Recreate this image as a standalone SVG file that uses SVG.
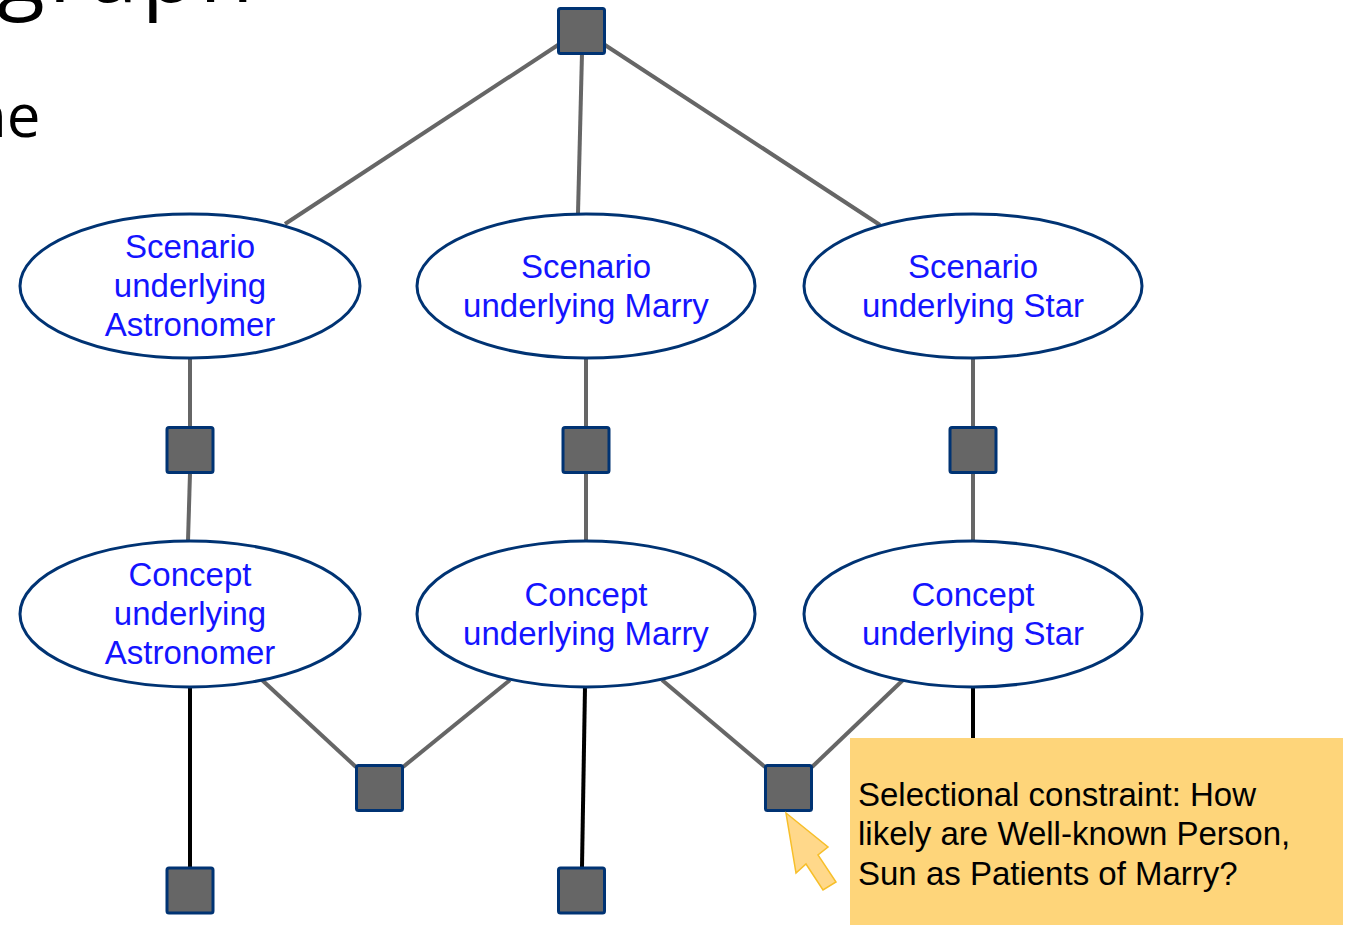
<svg xmlns="http://www.w3.org/2000/svg" width="1350" height="925" viewBox="0 0 1350 925">
<style>
.bg{font-family:"Open Sans","DejaVu Sans",sans-serif;fill:#000}
.ell{fill:#fff;stroke:#003373;stroke-width:3}
.sq{fill:#666;stroke:#003373;stroke-width:3}
.lbl{font-family:"Liberation Sans",Arial,sans-serif;font-size:33px;fill:#1414ff;text-anchor:middle}
.g{stroke:#666;stroke-width:4;fill:none}
.k{stroke:#000;stroke-width:4;fill:none}
.note{font-family:"Liberation Sans",Arial,sans-serif;font-size:33px;fill:#000}
</style>
<rect width="1350" height="925" fill="#fff"/>
<text class="bg" x="-3" y="2" font-size="88" letter-spacing="4">graph</text>
<text class="bg" x="-30" y="137" font-size="60">he</text>
<g id="connectors">
<line class="g" x1="558" y1="45" x2="285" y2="224"/>
<line class="g" x1="582" y1="53" x2="578" y2="213"/>
<line class="g" x1="605" y1="45" x2="880" y2="225"/>
<line class="g" x1="190" y1="358" x2="190" y2="427"/>
<line class="g" x1="190" y1="473" x2="188" y2="541"/>
<line class="g" x1="586" y1="358" x2="586" y2="427"/>
<line class="g" x1="586" y1="473" x2="586" y2="541"/>
<line class="g" x1="973" y1="358" x2="973" y2="427"/>
<line class="g" x1="973" y1="473" x2="973" y2="541"/>
<line class="g" x1="262" y1="680" x2="356" y2="767"/>
<line class="g" x1="510" y1="680" x2="403" y2="767"/>
<line class="g" x1="662" y1="680" x2="765" y2="767"/>
<line class="g" x1="903" y1="680" x2="812" y2="767"/>
<line class="k" x1="190" y1="687" x2="190" y2="867"/>
<line class="k" x1="585" y1="687" x2="582" y2="867"/>
<line class="k" x1="973" y1="687" x2="973" y2="740"/>
</g>
<g id="f-top"><rect class="sq" x="558.5" y="8.5" width="46" height="45" rx="2"/></g>
<g id="s-astro"><ellipse class="ell" cx="190" cy="286" rx="170" ry="72"/><text class="lbl" x="190" y="258">Scenario</text><text class="lbl" x="190" y="297">underlying</text><text class="lbl" x="190" y="336">Astronomer</text></g>
<g id="s-marry"><ellipse class="ell" cx="586" cy="286" rx="169" ry="72"/><text class="lbl" x="586" y="278">Scenario</text><text class="lbl" x="586" y="317">underlying Marry</text></g>
<g id="s-star"><ellipse class="ell" cx="973" cy="286" rx="169" ry="72"/><text class="lbl" x="973" y="278">Scenario</text><text class="lbl" x="973" y="317">underlying Star</text></g>
<g id="f-astro"><rect class="sq" x="167" y="427.5" width="46" height="45" rx="2"/></g>
<g id="f-marry"><rect class="sq" x="563" y="427.5" width="46" height="45" rx="2"/></g>
<g id="f-star"><rect class="sq" x="950" y="427.5" width="46" height="45" rx="2"/></g>
<g id="c-astro"><ellipse class="ell" cx="190" cy="614" rx="170" ry="73"/><text class="lbl" x="190" y="586">Concept</text><text class="lbl" x="190" y="625">underlying</text><text class="lbl" x="190" y="664">Astronomer</text></g>
<g id="c-marry"><ellipse class="ell" cx="586" cy="614" rx="169" ry="73"/><text class="lbl" x="586" y="606">Concept</text><text class="lbl" x="586" y="645">underlying Marry</text></g>
<g id="c-star"><ellipse class="ell" cx="973" cy="614" rx="169" ry="73"/><text class="lbl" x="973" y="606">Concept</text><text class="lbl" x="973" y="645">underlying Star</text></g>
<g id="f-am"><rect class="sq" x="356.5" y="765.5" width="46" height="45" rx="2"/></g>
<g id="f-ms"><rect class="sq" x="765.5" y="765.5" width="46" height="45" rx="2"/></g>
<g id="v-astro"><rect class="sq" x="167" y="868" width="46" height="45" rx="2"/></g>
<g id="v-marry"><rect class="sq" x="558.5" y="868" width="46" height="45" rx="2"/></g>
<g id="note">
<polygon points="786,813 828,847 818,855 836,882 823,890 806,864 796,873" fill="#ffd88a" stroke="#f7bf2a" stroke-width="1.5"/>
<rect x="850" y="738" width="493" height="190" fill="#fed57a"/>
<text class="note" x="858" y="806">Selectional constraint: How</text>
<text class="note" x="858" y="845">likely are Well-known Person,</text>
<text class="note" x="858" y="885">Sun as Patients of Marry?</text>
</g>
</svg>
